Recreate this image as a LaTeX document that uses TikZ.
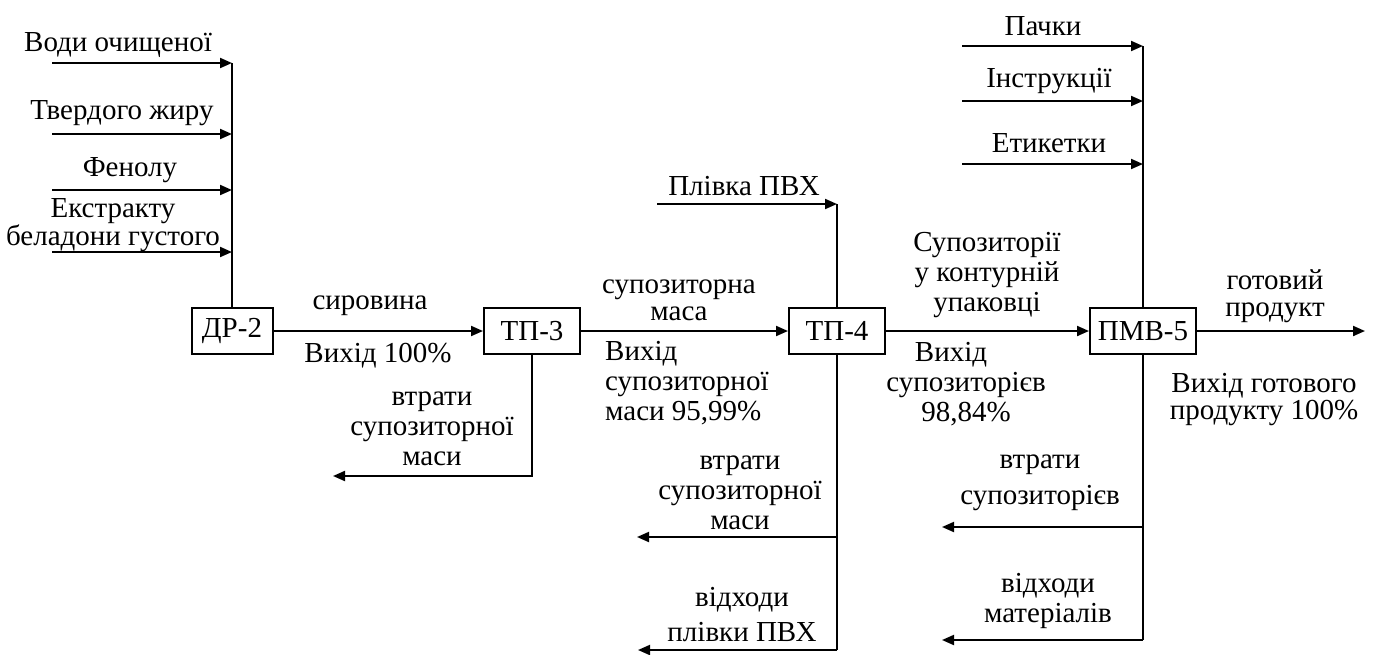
\documentclass[tikz,border=0pt]{standalone}
\usepackage{fontspec}
\setmainfont{Liberation Serif}
\usetikzlibrary{arrows.meta}
\tikzset{
  unit/.style={draw,line width=2pt,inner sep=0,minimum height=46pt},
  flow/.style={line width=2pt,-{Triangle[length=12pt,width=10pt]}},
  link/.style={line width=2pt},
  lbl/.style={inner sep=0,align=center}
}

\begin{document}
\begin{tikzpicture}[x=1pt,y=-1pt,font=\fontsize{29}{30}\selectfont]
  \useasboundingbox (0,0) rectangle (1378,654);
  % apparatus
  \node[unit,minimum width=81pt] (dr2) at (232,331) {ДР-2};
  \node[unit,minimum width=96pt] (tp3) at (532,331) {ТП-3};
  \node[unit,minimum width=96pt] (tp4) at (837,331) {ТП-4};
  \node[unit,minimum width=106pt] (pmv5) at (1143,331) {ПМВ-5};
  \coordinate (out) at (1365,331);
  % inputs
  \coordinate (voda) at (52,63);
  \coordinate (zhyr) at (52,134);
  \coordinate (fenol) at (52,190);
  \coordinate (ekstr) at (52,252);
  \coordinate (pvc) at (657,204);
  \coordinate (pachky) at (962,46);
  \coordinate (instr) at (962,101);
  \coordinate (etyk) at (962,164);
  % losses
  \coordinate (loss3) at (333,476);
  \coordinate (loss4) at (637,537);
  \coordinate (waste4) at (638,650);
  \coordinate (loss5) at (942,527);
  \coordinate (waste5) at (942,640);

  \foreach \c in {voda,zhyr,fenol,ekstr}
    \draw[flow] (\c) -- (\c -| dr2);
  \draw[link] (voda -| dr2) -- (dr2.north);
  \draw[flow] (pvc) -- (pvc -| tp4);
  \draw[link] (pvc -| tp4) -- (tp4.north);
  \foreach \c in {pachky,instr,etyk}
    \draw[flow] (\c) -- (\c -| pmv5);
  \draw[link] (pachky -| pmv5) -- (pmv5.north);

  \draw[flow] (dr2) -- (tp3);
  \draw[flow] (tp3) -- (tp4);
  \draw[flow] (tp4) -- (pmv5);
  \draw[flow] (pmv5) -- (out);

  \draw[flow] (tp3.south) |- (loss3);
  \draw[link] (tp4.south) -- (tp4 |- waste4);
  \draw[flow] (tp4 |- loss4) -- (loss4);
  \draw[flow] (tp4 |- waste4) -- (waste4);
  \draw[link] (pmv5.south) -- (pmv5 |- waste5);
  \draw[flow] (pmv5 |- loss5) -- (loss5);
  \draw[flow] (pmv5 |- waste5) -- (waste5);

  % labels
  \node[lbl] (lvoda) at (118,45) {Води очищеної};
  \node[lbl] (lzhyr) at (122,113) {Твердого жиру};
  \node[lbl] (lfenol) at (130,170) {Фенолу};
  \node[lbl,font=\fontsize{29}{21}\selectfont] (lekstr) at (113,225) {Екстракту\\беладони густого};
  \node[lbl] (lsyr) at (370,306) {сировина};
  \node[lbl] (lvyh1) at (378,356) {Вихід 100\%};
  \node[lbl] (lvtr3) at (432,429) {втрати\\супозиторної\\маси};
  \node[lbl] (lpvc) at (744,186) {Плівка ПВХ};
  \node[lbl,font=\fontsize{29}{27}\selectfont] (lmasa) at (679,300) {супозиторна\\маса};
  \node[lbl,align=left,anchor=west] (lvyh2) at (605,383) {Вихід\\супозиторної\\маси 95,99\%};
  \node[lbl] (lvtr4) at (740,493) {втрати\\супозиторної\\маси};
  \node[lbl,font=\fontsize{29}{35}\selectfont] (lvidh4) at (742,615) {відходи\\плівки ПВХ};
  \node[lbl] (lsup) at (987,275) {Супозиторії\\у контурній\\упаковці};
  \node[lbl] (lvyh3) at (966,384) {Вихід\hspace*{30pt}\\супозиторієв\\98,84\%};
  \node[lbl,font=\fontsize{29}{27}\selectfont] (lgot) at (1275,296) {готовий\\продукт};
  \node[lbl,font=\fontsize{29}{27}\selectfont] (lvyh4) at (1264,400) {Вихід готового\\продукту 100\%};
  \node[lbl] (lpach) at (1043,26) {Пачки};
  \node[lbl] (linstr) at (1049,81) {Інструкції};
  \node[lbl] (letyk) at (1049,143) {Етикетки};
  \node[lbl,font=\fontsize{29}{36}\selectfont] (lvtr5) at (1040,483) {втрати\\супозиторієв};
  \node[lbl] (lvidh5) at (1048,601) {відходи\\матеріалів};
\end{tikzpicture}
\end{document}
